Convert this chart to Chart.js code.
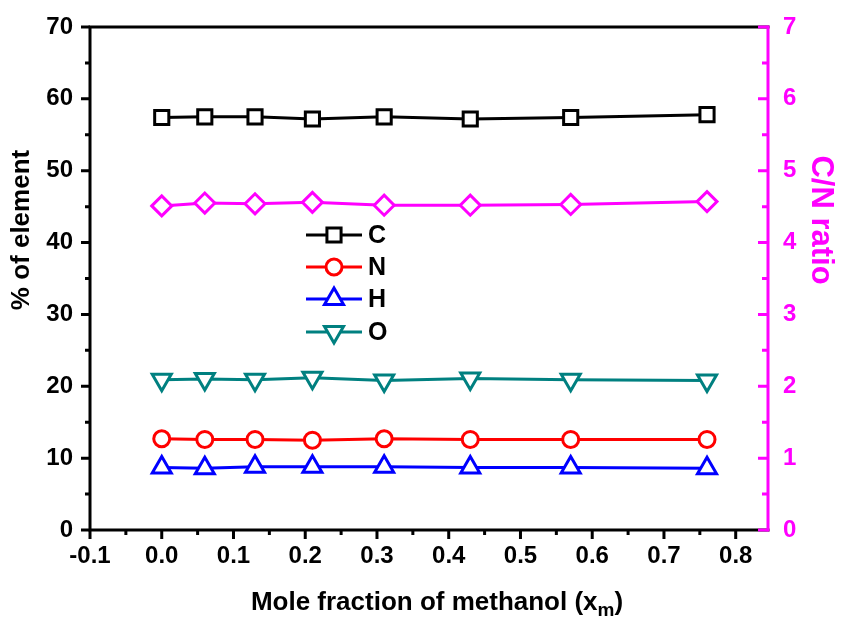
<!DOCTYPE html>
<html><head><meta charset="utf-8">
<script src="https://cdn.jsdelivr.net/npm/chart.js@4.4.1/dist/chart.umd.min.js"></script>
<style>html,body{margin:0;padding:0;background:#fff;overflow:hidden}#wrap{width:843px;height:621px}</style>
</head><body><div id="wrap"><canvas id="c" width="843" height="621"></canvas></div>
<script>
// ---- data ----
const xValues   = [0.0, 0.06, 0.13, 0.21, 0.31, 0.43, 0.57, 0.76];
const carbon    = [57.4, 57.5, 57.5, 57.2, 57.5, 57.2, 57.4, 57.8];
const nitrogen  = [12.7, 12.6, 12.6, 12.5, 12.7, 12.6, 12.6, 12.6];
const hydrogen  = [8.7, 8.6, 8.8, 8.8, 8.8, 8.7, 8.7, 8.6];
const oxygen    = [20.9, 21.0, 20.9, 21.2, 20.8, 21.1, 20.9, 20.8];
const cnRatio   = [4.51, 4.55, 4.54, 4.56, 4.52, 4.52, 4.53, 4.57];
const xTicks    = [-0.1, 0.0, 0.1, 0.2, 0.3, 0.4, 0.5, 0.6, 0.7, 0.8];
const yTicks    = [0, 10, 20, 30, 40, 50, 60, 70];
const y2Ticks   = [0, 1, 2, 3, 4, 5, 6, 7];
const legendLabels = ['C', 'N', 'H', 'O'];
const xTitle = 'Mole fraction of methanol (x';
const xTitleSub = 'm';
const xTitleEnd = ')';
const yTitle = '% of element';
const y2Title = 'C/N ratio';

const FONT = "'Liberation Sans', Arial, sans-serif";
const MAG = '#ff00ff';

function pts(vals){ return xValues.map((x,i)=>({x:x, y:vals[i]})); }
function ds(label, vals, color, style, r, axis, rot){
  return {label, data: pts(vals), borderColor: color, backgroundColor:'#fff',
    pointBackgroundColor:'#fff', pointBorderColor: color, pointBorderWidth:3,
    pointStyle: style, pointRadius: r, pointRotation: rot||0, borderWidth:3,
    yAxisID: axis, showLine:true, fill:false, tension:0, clip:false};
}
const sets = [
  ds('C', carbon, '#000000', 'rect', 10, 'y', 0),
  ds('N', nitrogen, '#ff0000', 'circle', 8, 'y', 0),
  ds('H', hydrogen, '#0000ff', 'triangle', 11, 'y', 0),
  ds('O', oxygen, '#008080', 'triangle', 11, 'y', 180),
  ds('C/N', cnRatio, MAG, 'rectRot', 10, 'y2', 0)
];

function mark(ctx, style, r, rot, x, y){
  if (Chart.helpers && Chart.helpers.drawPoint){
    Chart.helpers.drawPoint(ctx, {pointStyle:style, radius:r, rotation:rot, borderWidth:3}, x, y);
  }
}

const framePlugin = {
  id:'frame',
  afterDatasetsDraw(chart){
    const ctx = chart.ctx, a = chart.chartArea, sx = chart.scales.x, sy = chart.scales.y, sy2 = chart.scales.y2;
    ctx.save();
    ctx.lineWidth = 3; ctx.lineCap = 'square';
    ctx.strokeStyle = '#000';
    ctx.beginPath();
    ctx.moveTo(a.left, a.bottom); ctx.lineTo(a.left, a.top); ctx.lineTo(a.right, a.top);
    ctx.moveTo(a.left, a.bottom); ctx.lineTo(a.right, a.bottom);
    ctx.stroke();
    ctx.lineCap = 'butt';
    ctx.beginPath();
    yTicks.forEach((v,i)=>{
      const p = sy.getPixelForValue(v);
      ctx.moveTo(a.left, p); ctx.lineTo(a.left-9, p);
      if (i < yTicks.length-1){ const m = sy.getPixelForValue((v+yTicks[i+1])/2); ctx.moveTo(a.left,m); ctx.lineTo(a.left-5,m); }
    });
    xTicks.forEach((v,i)=>{
      const p = sx.getPixelForValue(v);
      ctx.moveTo(p, a.bottom); ctx.lineTo(p, a.bottom+9);
      if (i < xTicks.length-1){ const m = sx.getPixelForValue((v+xTicks[i+1])/2); ctx.moveTo(m,a.bottom); ctx.lineTo(m,a.bottom+5); }
    });
    ctx.stroke();
    ctx.strokeStyle = MAG;
    ctx.lineCap = 'square';
    ctx.beginPath(); ctx.moveTo(a.right, a.top); ctx.lineTo(a.right, a.bottom); ctx.stroke();
    ctx.lineCap = 'butt';
    ctx.beginPath();
    y2Ticks.forEach((v,i)=>{
      const p = sy2.getPixelForValue(v);
      ctx.moveTo(a.right, p); ctx.lineTo(a.right-10, p);
      if (i < y2Ticks.length-1){ const m = sy2.getPixelForValue((v+y2Ticks[i+1])/2); ctx.moveTo(a.right,m); ctx.lineTo(a.right-6,m); }
    });
    ctx.stroke();

    // legend
    const rows = [235, 267, 299, 332];
    sets.slice(0,4).forEach((d,i)=>{
      const y = rows[i];
      ctx.strokeStyle = d.borderColor; ctx.lineWidth = 3;
      ctx.beginPath(); ctx.moveTo(306, y); ctx.lineTo(362, y); ctx.stroke();
      ctx.fillStyle = '#fff'; ctx.strokeStyle = d.borderColor; ctx.lineWidth = 3;
      mark(ctx, d.pointStyle, d.pointRadius, d.pointRotation, 334, y);
      ctx.fillStyle = '#000';
      ctx.font = 'bold 25px ' + FONT;
      ctx.textAlign = 'left'; ctx.textBaseline = 'middle';
      ctx.fillText(legendLabels[i], 368, y+1);
    });

    // titles
    ctx.fillStyle = '#000';
    ctx.font = 'bold 26px ' + FONT;
    ctx.textBaseline = 'alphabetic';
    const w1 = ctx.measureText(xTitle).width;
    ctx.font = 'bold 19px ' + FONT;
    const w2 = ctx.measureText(xTitleSub).width;
    ctx.font = 'bold 26px ' + FONT;
    const w3 = ctx.measureText(xTitleEnd).width;
    let x0 = 437 - (w1+w2+w3)/2, by = 610;
    ctx.textAlign = 'left';
    ctx.fillText(xTitle, x0, by);
    ctx.font = 'bold 19px ' + FONT;
    ctx.fillText(xTitleSub, x0+w1, by+6);
    ctx.font = 'bold 26px ' + FONT;
    ctx.fillText(xTitleEnd, x0+w1+w2, by);

    ctx.save();
    ctx.translate(22, 230); ctx.rotate(-Math.PI/2);
    ctx.textAlign = 'center'; ctx.textBaseline = 'middle';
    ctx.fillText(yTitle, 0, 0);
    ctx.restore();

    ctx.save();
    ctx.fillStyle = MAG;
    ctx.font = 'bold 31px ' + FONT;
    ctx.translate(821, 220); ctx.rotate(Math.PI/2);
    ctx.textAlign = 'center'; ctx.textBaseline = 'middle';
    ctx.fillText(y2Title, 0, 0);
    ctx.restore();
    ctx.restore();
  }
};

const tickFont = {family: FONT, size: 24, weight: 'bold'};
function fixV(w){ return s => { s.width = w; s.paddingTop = 0; s.paddingBottom = 0; }; }
new Chart(document.getElementById('c'), {
  type: 'scatter',
  data: {datasets: sets},
  options: {
    responsive: false, animation: false, events: [], devicePixelRatio: 1,
    layout: {padding: {top: 27, left: 0, right: 0, bottom: 0}},
    plugins: {legend: {display:false}, tooltip: {enabled:false}},
    scales: {
      x: {type:'linear', min:-0.1, max:0.845,
        afterBuildTicks: s => { s.ticks = xTicks.map(v=>({value:v})); },
        afterFit: s => { s.height = 91; s.paddingLeft = 0; s.paddingRight = 0; },
        grid: {display:false, drawTicks:false}, border: {display:false},
        ticks: {padding: 12, color:'#000', font: tickFont, maxRotation:0, autoSkip:false,
          callback: v => Number(v).toFixed(1)}},
      y: {type:'linear', position:'left', min:0, max:70,
        afterBuildTicks: s => { s.ticks = yTicks.map(v=>({value:v})); },
        afterFit: fixV(90),
        grid: {display:false, drawTicks:false}, border: {display:false},
        ticks: {padding: 17, color:'#000', font: tickFont, autoSkip:false}},
      y2: {type:'linear', position:'right', min:0, max:7,
        afterBuildTicks: s => { s.ticks = y2Ticks.map(v=>({value:v})); },
        afterFit: fixV(75),
        grid: {display:false, drawTicks:false}, border: {display:false},
        ticks: {padding: 15, color: MAG, font: tickFont, autoSkip:false}}
    }
  },
  plugins: [framePlugin]
});
</script>
</body></html>
